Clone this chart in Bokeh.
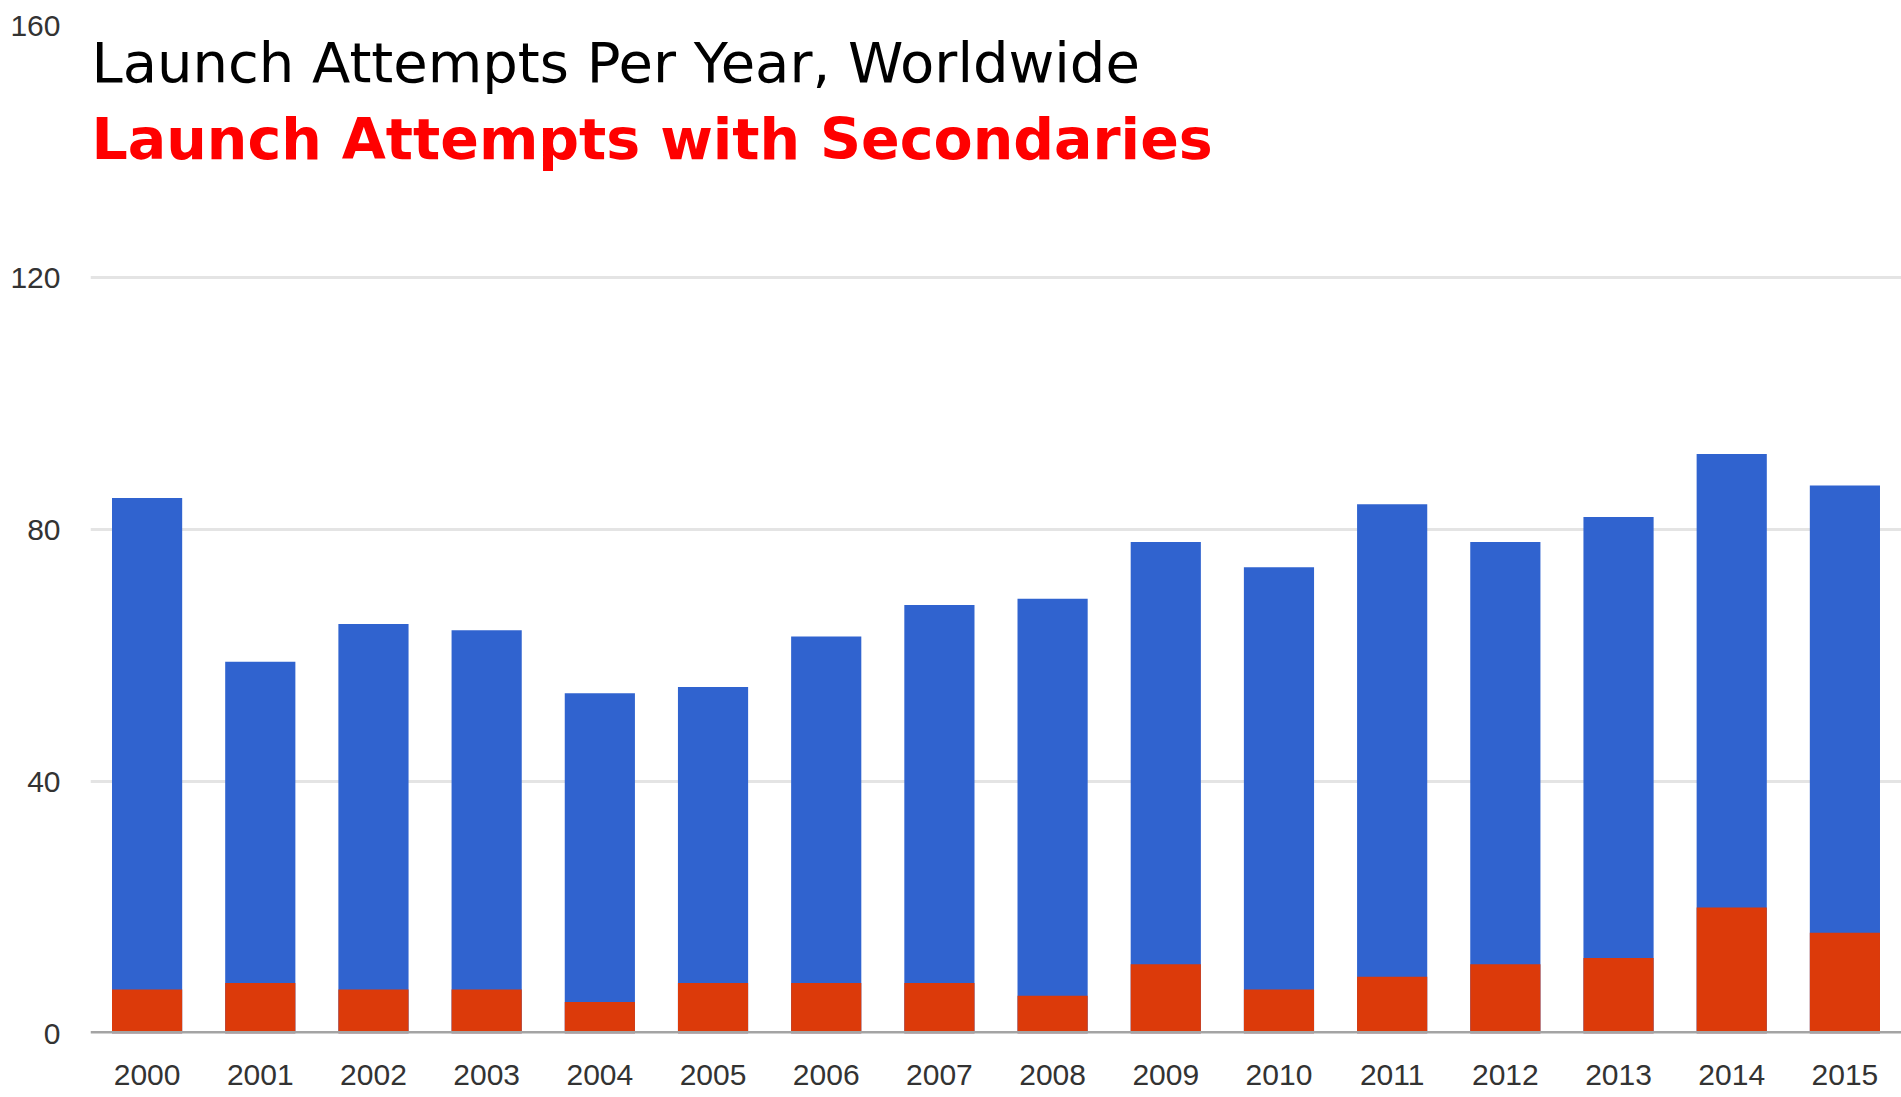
from bokeh.plotting import figure
from bokeh.models import ColumnDataSource, FactorRange, FixedTicker, Span, Label, Range1d
from bokeh.embed import file_html
from bokeh.resources import INLINE

years = ["2000", "2001", "2002", "2003", "2004", "2005", "2006", "2007",
         "2008", "2009", "2010", "2011", "2012", "2013", "2014", "2015"]
total_launches = [85, 59, 65, 64, 54, 55, 63, 68, 69, 78, 74, 84, 78, 82, 92, 87]
with_secondaries = [7, 8, 7, 7, 5, 8, 8, 8, 6, 11, 7, 9, 11, 12, 20, 16]
y_ticks = [0, 40, 80, 120, 160]

title_main = "Launch Attempts Per Year, Worldwide"
title_sub = "Launch Attempts with Secondaries"

BLUE = "#3063CF"
RED = "#DC3A0A"

source = ColumnDataSource(data=dict(year=years, total=total_launches, sec=with_secondaries))

p = figure(
    width=1901, height=1097,
    x_range=FactorRange(factors=years, range_padding=0),
    y_range=Range1d(0, 160),
    output_backend="svg", toolbar_location=None,
    min_border_left=90, min_border_right=0, min_border_top=25, min_border_bottom=64,
)
p.outline_line_color = None
p.background_fill_color = "white"
p.border_fill_color = "white"

p.vbar(x="year", top="total", width=0.62, source=source, fill_color=BLUE, line_color=None)
p.vbar(x="year", top="sec", width=0.62, source=source, fill_color=RED, line_color=None)

p.xgrid.grid_line_color = None
p.ygrid.grid_line_color = "#e4e4e4"
p.ygrid.grid_line_width = 3

p.yaxis.ticker = FixedTicker(ticks=y_ticks)
for ax in (p.xaxis[0], p.yaxis[0]):
    ax.axis_line_color = None
    ax.major_tick_line_color = None
    ax.minor_tick_line_color = None
    ax.major_label_text_font = "Liberation Sans"
    ax.major_label_text_color = "#333333"

p.yaxis.major_label_text_font_size = "30px"
p.yaxis.major_label_standoff = 24
p.xaxis.major_label_text_font_size = "30px"
p.xaxis.major_label_standoff = 25

p.add_layout(Span(location=0, dimension="width", line_color="#a4a4a4", line_width=5))

p.add_layout(Label(x=0, y=154.1, x_offset=1, text=title_main, text_font="DejaVu Sans",
                   text_font_size="56px", text_color="black", text_baseline="alphabetic"))
p.add_layout(Label(x=0, y=142.0, x_offset=1, text=title_sub, text_font="DejaVu Sans",
                   text_font_size="57px", text_font_style="bold", text_color="#FF0000",
                   text_baseline="alphabetic"))

open("out.html", "w").write(file_html(p, INLINE))
